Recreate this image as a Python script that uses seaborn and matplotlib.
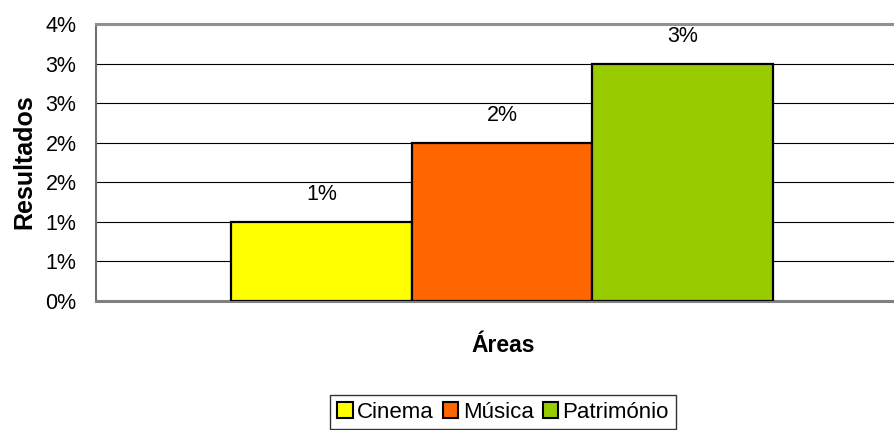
import matplotlib
matplotlib.use("Agg")
import matplotlib.pyplot as plt
import seaborn as sns
import pandas as pd
from matplotlib.patches import Patch

# ---- data ----
categories = ["Cinema", "Música", "Património"]
values = [0.01, 0.02, 0.03]
value_labels = ["1%", "2%", "3%"]
ytick_values = [0.0, 0.005, 0.01, 0.015, 0.02, 0.025, 0.03, 0.035]
ytick_labels = ["0%", "1%", "1%", "2%", "2%", "3%", "3%", "4%"]
colors = ["#FFFF00", "#FF6600", "#99CC00"]
x_title = "Áreas"
y_title = "Resultados"

sns.set_theme(style="white")
plt.rcParams["font.family"] = ["Liberation Sans", "DejaVu Sans"]
plt.rcParams["text.color"] = "black"
plt.rcParams["xtick.color"] = "black"
plt.rcParams["ytick.color"] = "black"
plt.rcParams["axes.labelcolor"] = "black"

W, H = 895, 430
fig = plt.figure(figsize=(W / 100, H / 100), dpi=100)
left, right, top, bottom = 96, 908, 24, 301
ax = fig.add_axes([left / W, 1 - bottom / H, (right - left) / W, (bottom - top) / H])

df = pd.DataFrame({"grp": [""] * len(categories), "cat": categories, "val": values})
sns.barplot(data=df, x="grp", y="val", hue="cat", hue_order=categories,
            palette=colors, width=542 / 812, gap=0, ax=ax,
            edgecolor="black", linewidth=1.6, saturation=1, legend=False, zorder=3)

ax.set_xlim(-0.5, 0.5)
ax.set_ylim(0, 0.035)
ax.set_yticks(ytick_values)
ax.set_yticklabels(ytick_labels, fontsize=15.5)
ax.set_xticks([-0.5])
ax.set_xticklabels([""])
ax.tick_params(axis="y", direction="out", length=7, width=1.2, color="#606060", pad=7)
ax.tick_params(axis="x", direction="out", length=7, width=1.2, color="#808080")
for v in ytick_values[1:]:
    ax.axhline(v, color="black", lw=0.8, zorder=1)

ax.spines["right"].set_visible(False)
ax.spines["top"].set_color("#909090")
ax.spines["top"].set_linewidth(2.2)
ax.spines["bottom"].set_color("#808080")
ax.spines["bottom"].set_linewidth(2.2)
ax.spines["left"].set_color("#707070")
ax.spines["left"].set_linewidth(1.5)

for cont, lab in zip(ax.containers, value_labels):
    ax.bar_label(cont, labels=[lab], padding=12, fontsize=15.5)

ax.set_xlabel("")
ax.set_ylabel("")
fig.text(503 / W, 1 - 346 / H, x_title, ha="center", va="center",
         fontsize=16.5, fontweight="bold")
fig.text(24 / W, 1 - 162 / H, y_title, ha="center", va="center",
         rotation=90, fontsize=18, fontweight="bold")

handles = [Patch(facecolor=c, edgecolor="black", linewidth=1.5) for c in colors]
leg = fig.legend(handles, categories, loc="upper center",
                 bbox_to_anchor=(503 / W, 1 - 395 / H), ncol=3, frameon=True,
                 fancybox=False, fontsize=16, handlelength=0.7, handleheight=0.7,
                 handletextpad=0.2, columnspacing=0.4, borderpad=0.3,
                 borderaxespad=0)
leg.get_frame().set_edgecolor("black")
leg.get_frame().set_linewidth(1.0)

fig.savefig("out.png", dpi=100)
